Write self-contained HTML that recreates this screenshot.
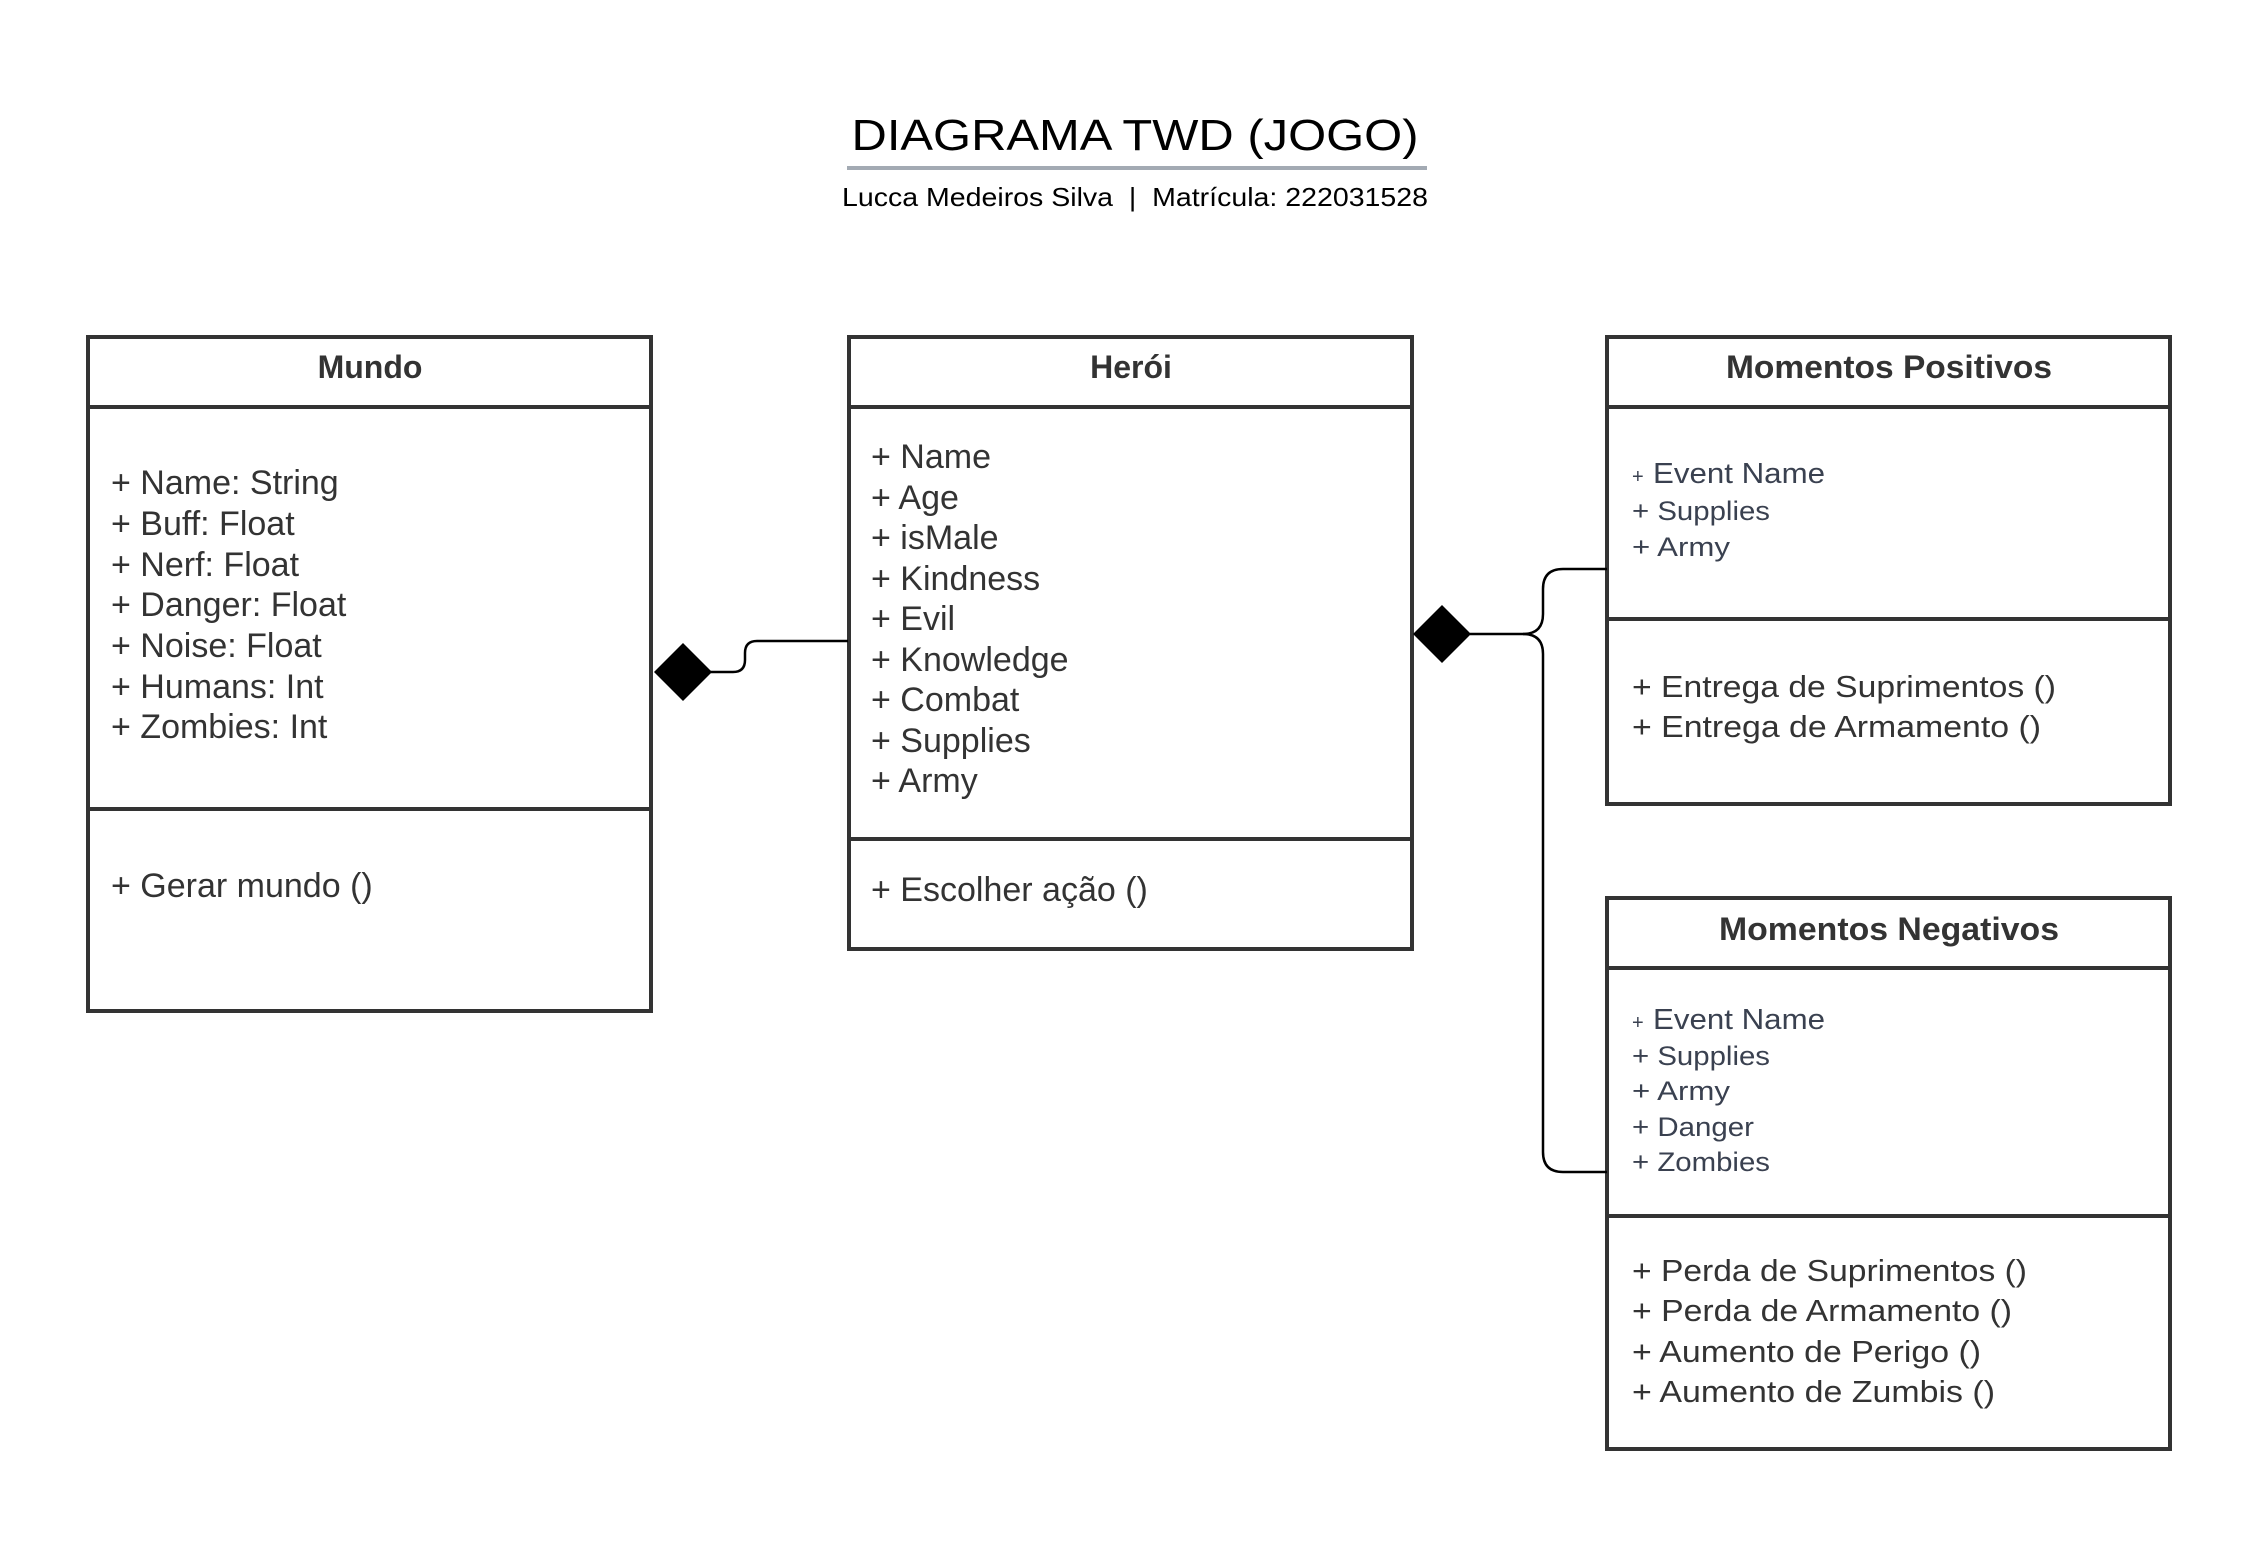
<!DOCTYPE html>
<html><head><meta charset="utf-8"><style>
html,body{margin:0;padding:0;background:#fff;}
svg{display:block;}
text{font-family:"Liberation Sans",Arial,sans-serif;}
</style></head><body>
<svg width="2244" height="1543" viewBox="0 0 2244 1543" xmlns="http://www.w3.org/2000/svg">
<rect width="2244" height="1543" fill="#fff"/>
<text x="1135" y="150" font-size="44" text-anchor="middle" fill="#000" textLength="567" lengthAdjust="spacingAndGlyphs">DIAGRAMA TWD (JOGO)</text>
<rect x="847" y="166" width="580" height="4" fill="#a3aab3"/>
<text x="1135" y="206" font-size="26" text-anchor="middle" fill="#000" textLength="586" lengthAdjust="spacingAndGlyphs" xml:space="preserve">Lucca Medeiros Silva  |  Matrícula: 222031528</text>

<g fill="none" stroke="#333" stroke-width="4">
<rect x="88" y="337" width="563" height="674"/>
<line x1="88" y1="407" x2="651" y2="407"/>
<line x1="88" y1="809" x2="651" y2="809"/>
<rect x="849" y="337" width="563" height="612"/>
<line x1="849" y1="407" x2="1412" y2="407"/>
<line x1="849" y1="839" x2="1412" y2="839"/>
<rect x="1607" y="337" width="563" height="467"/>
<line x1="1607" y1="407" x2="2170" y2="407"/>
<line x1="1607" y1="619" x2="2170" y2="619"/>
<rect x="1607" y="898" width="563" height="551"/>
<line x1="1607" y1="968" x2="2170" y2="968"/>
<line x1="1607" y1="1216" x2="2170" y2="1216"/>
</g>

<g fill="none" stroke="#000" stroke-width="2.5">
<path d="M710,672 H733 Q745,672 745,660 V653 Q745,641 757,641 H848"/>
<path d="M1470,634 H1523 Q1543,634 1543,614 V589 Q1543,569 1563,569 H1607"/>
<path d="M1523,634 Q1543,634 1543,654 V1152 Q1543,1172 1563,1172 H1607"/>
</g>
<polygon points="654,672 683,643 712,672 683,701" fill="#000"/>
<polygon points="1413,634 1442,605 1471,634 1442,663" fill="#000"/>

<g font-weight="bold" font-size="32" fill="#333" text-anchor="middle">
<text x="370" y="378">Mundo</text>
<text x="1131" y="378">Herói</text>
<text x="1889" y="378" textLength="326" lengthAdjust="spacingAndGlyphs">Momentos Positivos</text>
<text x="1889" y="940" textLength="340" lengthAdjust="spacingAndGlyphs">Momentos Negativos</text>
</g>

<g font-size="34" fill="#333">
<text x="111" y="494">+ Name: String</text>
<text x="111" y="535">+ Buff: Float</text>
<text x="111" y="576">+ Nerf: Float</text>
<text x="111" y="616">+ Danger: Float</text>
<text x="111" y="657">+ Noise: Float</text>
<text x="111" y="698">+ Humans: Int</text>
<text x="111" y="738">+ Zombies: Int</text>
<text x="111" y="897">+ Gerar mundo ()</text>
</g>
<g font-size="34" fill="#333">
<text x="871" y="468">+ Name</text>
<text x="871" y="509">+ Age</text>
<text x="871" y="549">+ isMale</text>
<text x="871" y="590">+ Kindness</text>
<text x="871" y="630">+ Evil</text>
<text x="871" y="671">+ Knowledge</text>
<text x="871" y="711">+ Combat</text>
<text x="871" y="752">+ Supplies</text>
<text x="871" y="792">+ Army</text>
<text x="871" y="901">+ Escolher ação ()</text>
</g>
<g fill="#3a4150">
<text x="1632" y="483" font-size="20">+</text>
<text x="1653" y="483" font-size="29" textLength="172" lengthAdjust="spacingAndGlyphs">Event Name</text>
<text x="1632" y="520" font-size="27" textLength="138" lengthAdjust="spacingAndGlyphs">+ Supplies</text>
<text x="1632" y="556" font-size="27" textLength="98" lengthAdjust="spacingAndGlyphs">+ Army</text>
</g>
<g font-size="31" fill="#333">
<text x="1632" y="697" textLength="424" lengthAdjust="spacingAndGlyphs">+ Entrega de Suprimentos ()</text>
<text x="1632" y="737" textLength="409" lengthAdjust="spacingAndGlyphs">+ Entrega de Armamento ()</text>
</g>
<g fill="#3a4150">
<text x="1632" y="1029" font-size="20">+</text>
<text x="1653" y="1029" font-size="29" textLength="172" lengthAdjust="spacingAndGlyphs">Event Name</text>
<text x="1632" y="1065" font-size="27" textLength="138" lengthAdjust="spacingAndGlyphs">+ Supplies</text>
<text x="1632" y="1100" font-size="27" textLength="98" lengthAdjust="spacingAndGlyphs">+ Army</text>
<text x="1632" y="1136" font-size="27" textLength="122" lengthAdjust="spacingAndGlyphs">+ Danger</text>
<text x="1632" y="1171" font-size="27" textLength="138" lengthAdjust="spacingAndGlyphs">+ Zombies</text>
</g>
<g font-size="31" fill="#333">
<text x="1632" y="1281" textLength="395" lengthAdjust="spacingAndGlyphs">+ Perda de Suprimentos ()</text>
<text x="1632" y="1321" textLength="380" lengthAdjust="spacingAndGlyphs">+ Perda de Armamento ()</text>
<text x="1632" y="1362" textLength="349" lengthAdjust="spacingAndGlyphs">+ Aumento de Perigo ()</text>
<text x="1632" y="1402" textLength="363" lengthAdjust="spacingAndGlyphs">+ Aumento de Zumbis ()</text>
</g>
</svg>
</body></html>
